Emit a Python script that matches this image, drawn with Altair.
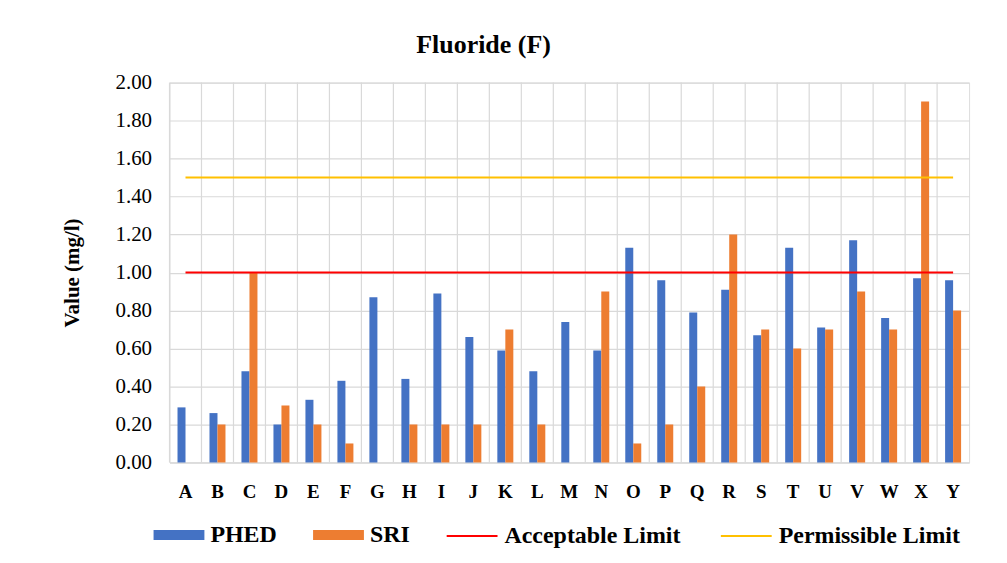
import altair as alt
import pandas as pd

categories = list("ABCDEFGHIJKLMNOPQRSTUVWXY")
phed = [0.29, 0.26, 0.48, 0.20, 0.33, 0.43, 0.87, 0.44, 0.89, 0.66, 0.59, 0.48, 0.74,
        0.59, 1.13, 0.96, 0.79, 0.91, 0.67, 1.13, 0.71, 1.17, 0.76, 0.97, 0.96]
sri = [0.0, 0.2, 1.0, 0.3, 0.2, 0.1, 0.0, 0.2, 0.2, 0.2, 0.7, 0.2, 0.0,
       0.9, 0.1, 0.2, 0.4, 1.2, 0.7, 0.6, 0.7, 0.9, 0.7, 1.9, 0.8]
acceptable = 1.0
permissible = 1.5

FONT = "Liberation Serif"
GRID = "#d9d9d9"

bars = pd.DataFrame(
    [{"Category": c, "Series": "PHED", "Value": v} for c, v in zip(categories, phed)]
    + [{"Category": c, "Series": "SRI", "Value": v} for c, v in zip(categories, sri)]
)
limits = pd.DataFrame(
    [{"Category": c, "Limit": "Acceptable Limit", "Value": acceptable} for c in categories]
    + [{"Category": c, "Limit": "Permissible Limit", "Value": permissible} for c in categories]
)
cats = pd.DataFrame({"Category": categories})

xscale = alt.Scale(domain=categories, paddingInner=0, paddingOuter=0)
yscale = alt.Scale(domain=[0, 2])

xaxis = alt.Axis(title=None, labelFont=FONT, labelFontSize=19, labelFontWeight="bold",
                 labelColor="black", labelAngle=0, ticks=False, domain=True, domainColor=GRID,
                 labelPadding=20, grid=False)
yaxis = alt.Axis(title="Value (mg/l)", titleFont=FONT, titleFontSize=21, titleFontWeight="bold",
                 titleColor="black", labelFont=FONT, labelFontSize=21, labelColor="black",
                 format=".2f", values=[0, 0.2, 0.4, 0.6, 0.8, 1.0, 1.2, 1.4, 1.6, 1.8, 2.0],
                 ticks=False, domain=False, grid=True, gridColor=GRID, gridWidth=1.2,
                 labelPadding=18, titlePadding=33)

vgrid = alt.Chart(cats).mark_rule(color=GRID, strokeWidth=1.2).encode(
    x=alt.X("Category:N", scale=xscale, axis=xaxis, bandPosition=0),
)

bar_layer = alt.Chart(bars).mark_bar().encode(
    x=alt.X("Category:N", scale=xscale, axis=xaxis),
    xOffset=alt.XOffset("Series:N", scale=alt.Scale(domain=["PHED", "SRI"], paddingInner=0, paddingOuter=1)),
    y=alt.Y("Value:Q", scale=yscale, axis=yaxis),
    fill=alt.Fill("Series:N",
                  scale=alt.Scale(domain=["PHED", "SRI"], range=["#4472C4", "#ED7D31"]),
                  legend=alt.Legend(title=None, orient="none", legendX=-16, legendY=428,
                                    direction="horizontal", columns=2,
                                    symbolType="M-1,-0.2H1V0.2H-1Z", symbolSize=2601,
                                    symbolStrokeWidth=0, symbolOpacity=1,
                                    labelFont=FONT, labelFontSize=24, labelFontWeight="bold",
                                    labelColor="black", labelLimit=400, labelOffset=6,
                                    columnPadding=36)),
)

line_layer = alt.Chart(limits).mark_line(strokeWidth=2).encode(
    x=alt.X("Category:N", scale=xscale, axis=xaxis),
    y=alt.Y("Value:Q", scale=yscale, axis=yaxis),
    stroke=alt.Stroke("Limit:N",
                      scale=alt.Scale(domain=["Acceptable Limit", "Permissible Limit"],
                                      range=["#FF0000", "#FFC000"]),
                      legend=alt.Legend(title=None, orient="none", legendX=277, legendY=428,
                                        direction="horizontal", columns=2,
                                        symbolType="stroke", symbolSize=2601,
                                        symbolStrokeWidth=2,
                                        labelFont=FONT, labelFontSize=24, labelFontWeight="bold",
                                        labelColor="black", labelLimit=400, labelOffset=6,
                                        columnPadding=36)),
)

chart = alt.layer(vgrid, bar_layer, line_layer).resolve_scale(
    fill="independent", stroke="independent"
).properties(
    width=802, height=381,
    title=alt.TitleParams("Fluoride (F)", font=FONT, fontSize=26, fontWeight="bold",
                          color="black", anchor="middle", dx=-86, offset=14),
    padding={"left": 162, "top": 74, "right": 30, "bottom": 100},
    autosize="none",
).configure_view(stroke=GRID, strokeWidth=1.2).configure(background="white")

chart.save("out.html", embed_options={"renderer": "svg", "actions": False})
